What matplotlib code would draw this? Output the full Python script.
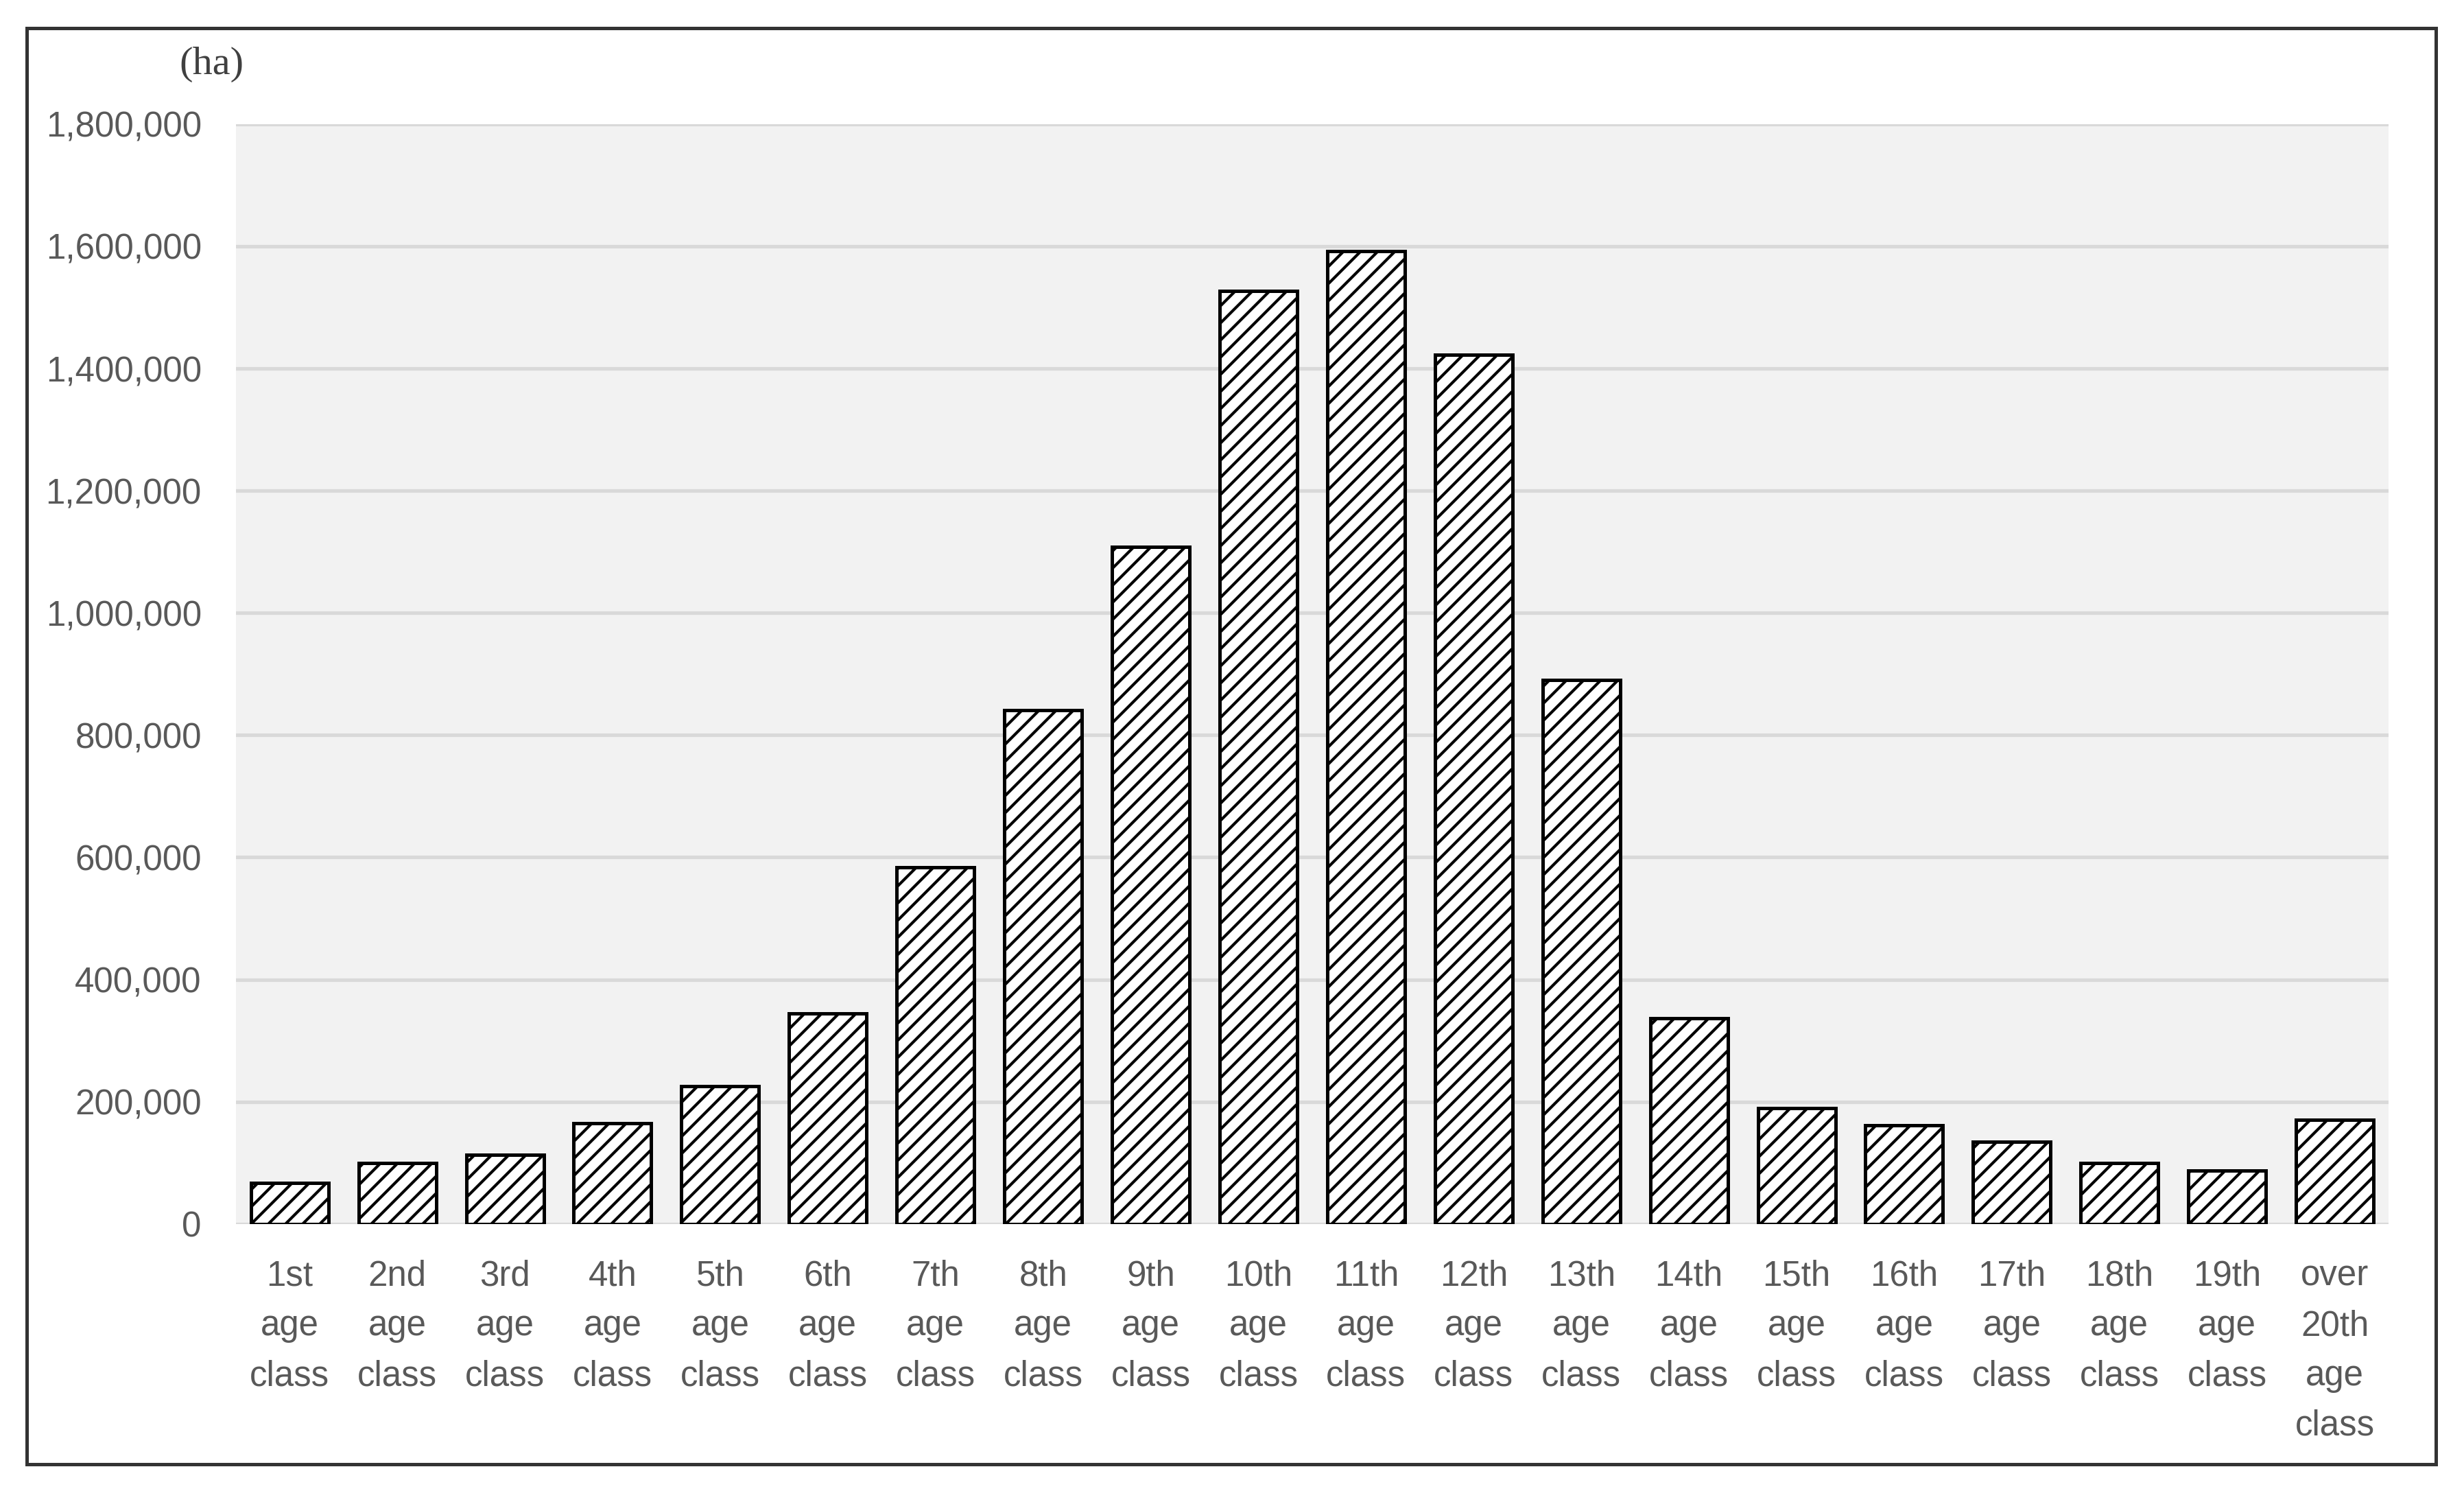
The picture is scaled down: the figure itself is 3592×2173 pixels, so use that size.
import matplotlib
matplotlib.use("Agg")
import matplotlib.pyplot as plt
from matplotlib.patches import Rectangle
from matplotlib.ticker import FuncFormatter

# age class areas (ha)
classes = ["1st\nage\nclass", "2nd\nage\nclass", "3rd\nage\nclass", "4th\nage\nclass",
           "5th\nage\nclass", "6th\nage\nclass", "7th\nage\nclass", "8th\nage\nclass",
           "9th\nage\nclass", "10th\nage\nclass", "11th\nage\nclass", "12th\nage\nclass",
           "13th\nage\nclass", "14th\nage\nclass", "15th\nage\nclass", "16th\nage\nclass",
           "17th\nage\nclass", "18th\nage\nclass", "19th\nage\nclass", "over\n20th\nage\nclass"]
area = [67000, 100000, 113000, 165000, 226000, 345000, 584000, 841000, 1108000, 1527000,
        1592000, 1422000, 890000, 337000, 190000, 162000, 134000, 100000, 87000, 170000]
yticks = [0, 200000, 400000, 600000, 800000, 1000000, 1200000, 1400000, 1600000, 1800000]

plt.rcParams['font.family'] = ['Liberation Sans Narrow', 'Liberation Sans', 'DejaVu Sans']
plt.rcParams['hatch.linewidth'] = 2.0
plt.rcParams['hatch.color'] = 'black'

DPI = 150
fig = plt.figure(figsize=(3592 / DPI, 2173 / DPI), dpi=DPI)
ax = fig.add_axes([0.0957, 0.1791, 0.8737, 0.7377])
ax.set_facecolor('#f2f2f2')

x = range(len(classes))
ax.bar(x, area, width=0.72, color='white', edgecolor='black', linewidth=2.4,
       hatch='//', zorder=3)

ax.set_xlim(-0.5, len(classes) - 0.5)
ax.set_ylim(0, 1800000)
ax.set_yticks(yticks)
ax.yaxis.set_major_formatter(FuncFormatter(lambda v, p: f"{int(v):,}"))
ax.set_xticks(list(x))
ax.set_xticklabels(classes, linespacing=1.62)
ax.grid(axis='y', color='#d9d9d9', linewidth=2.5, zorder=0)
ax.set_axisbelow(True)
for s in ax.spines.values():
    s.set_visible(False)
ax.tick_params(axis='both', length=0, labelsize=24.5, colors='#595959')
ax.tick_params(axis='y', pad=24)
ax.tick_params(axis='x', pad=25)

fig.text(0.086, 0.957, "(ha)", ha='center', va='center', fontsize=28,
         family=['Liberation Serif', 'DejaVu Serif'], color='#404040')

# outer frame
fig.patches.append(Rectangle((0.0108, 0.0179), 0.9777, 0.9631, transform=fig.transFigure,
                             fill=False, edgecolor='#333333', linewidth=2.4))

fig.savefig("out.png", dpi=DPI)
